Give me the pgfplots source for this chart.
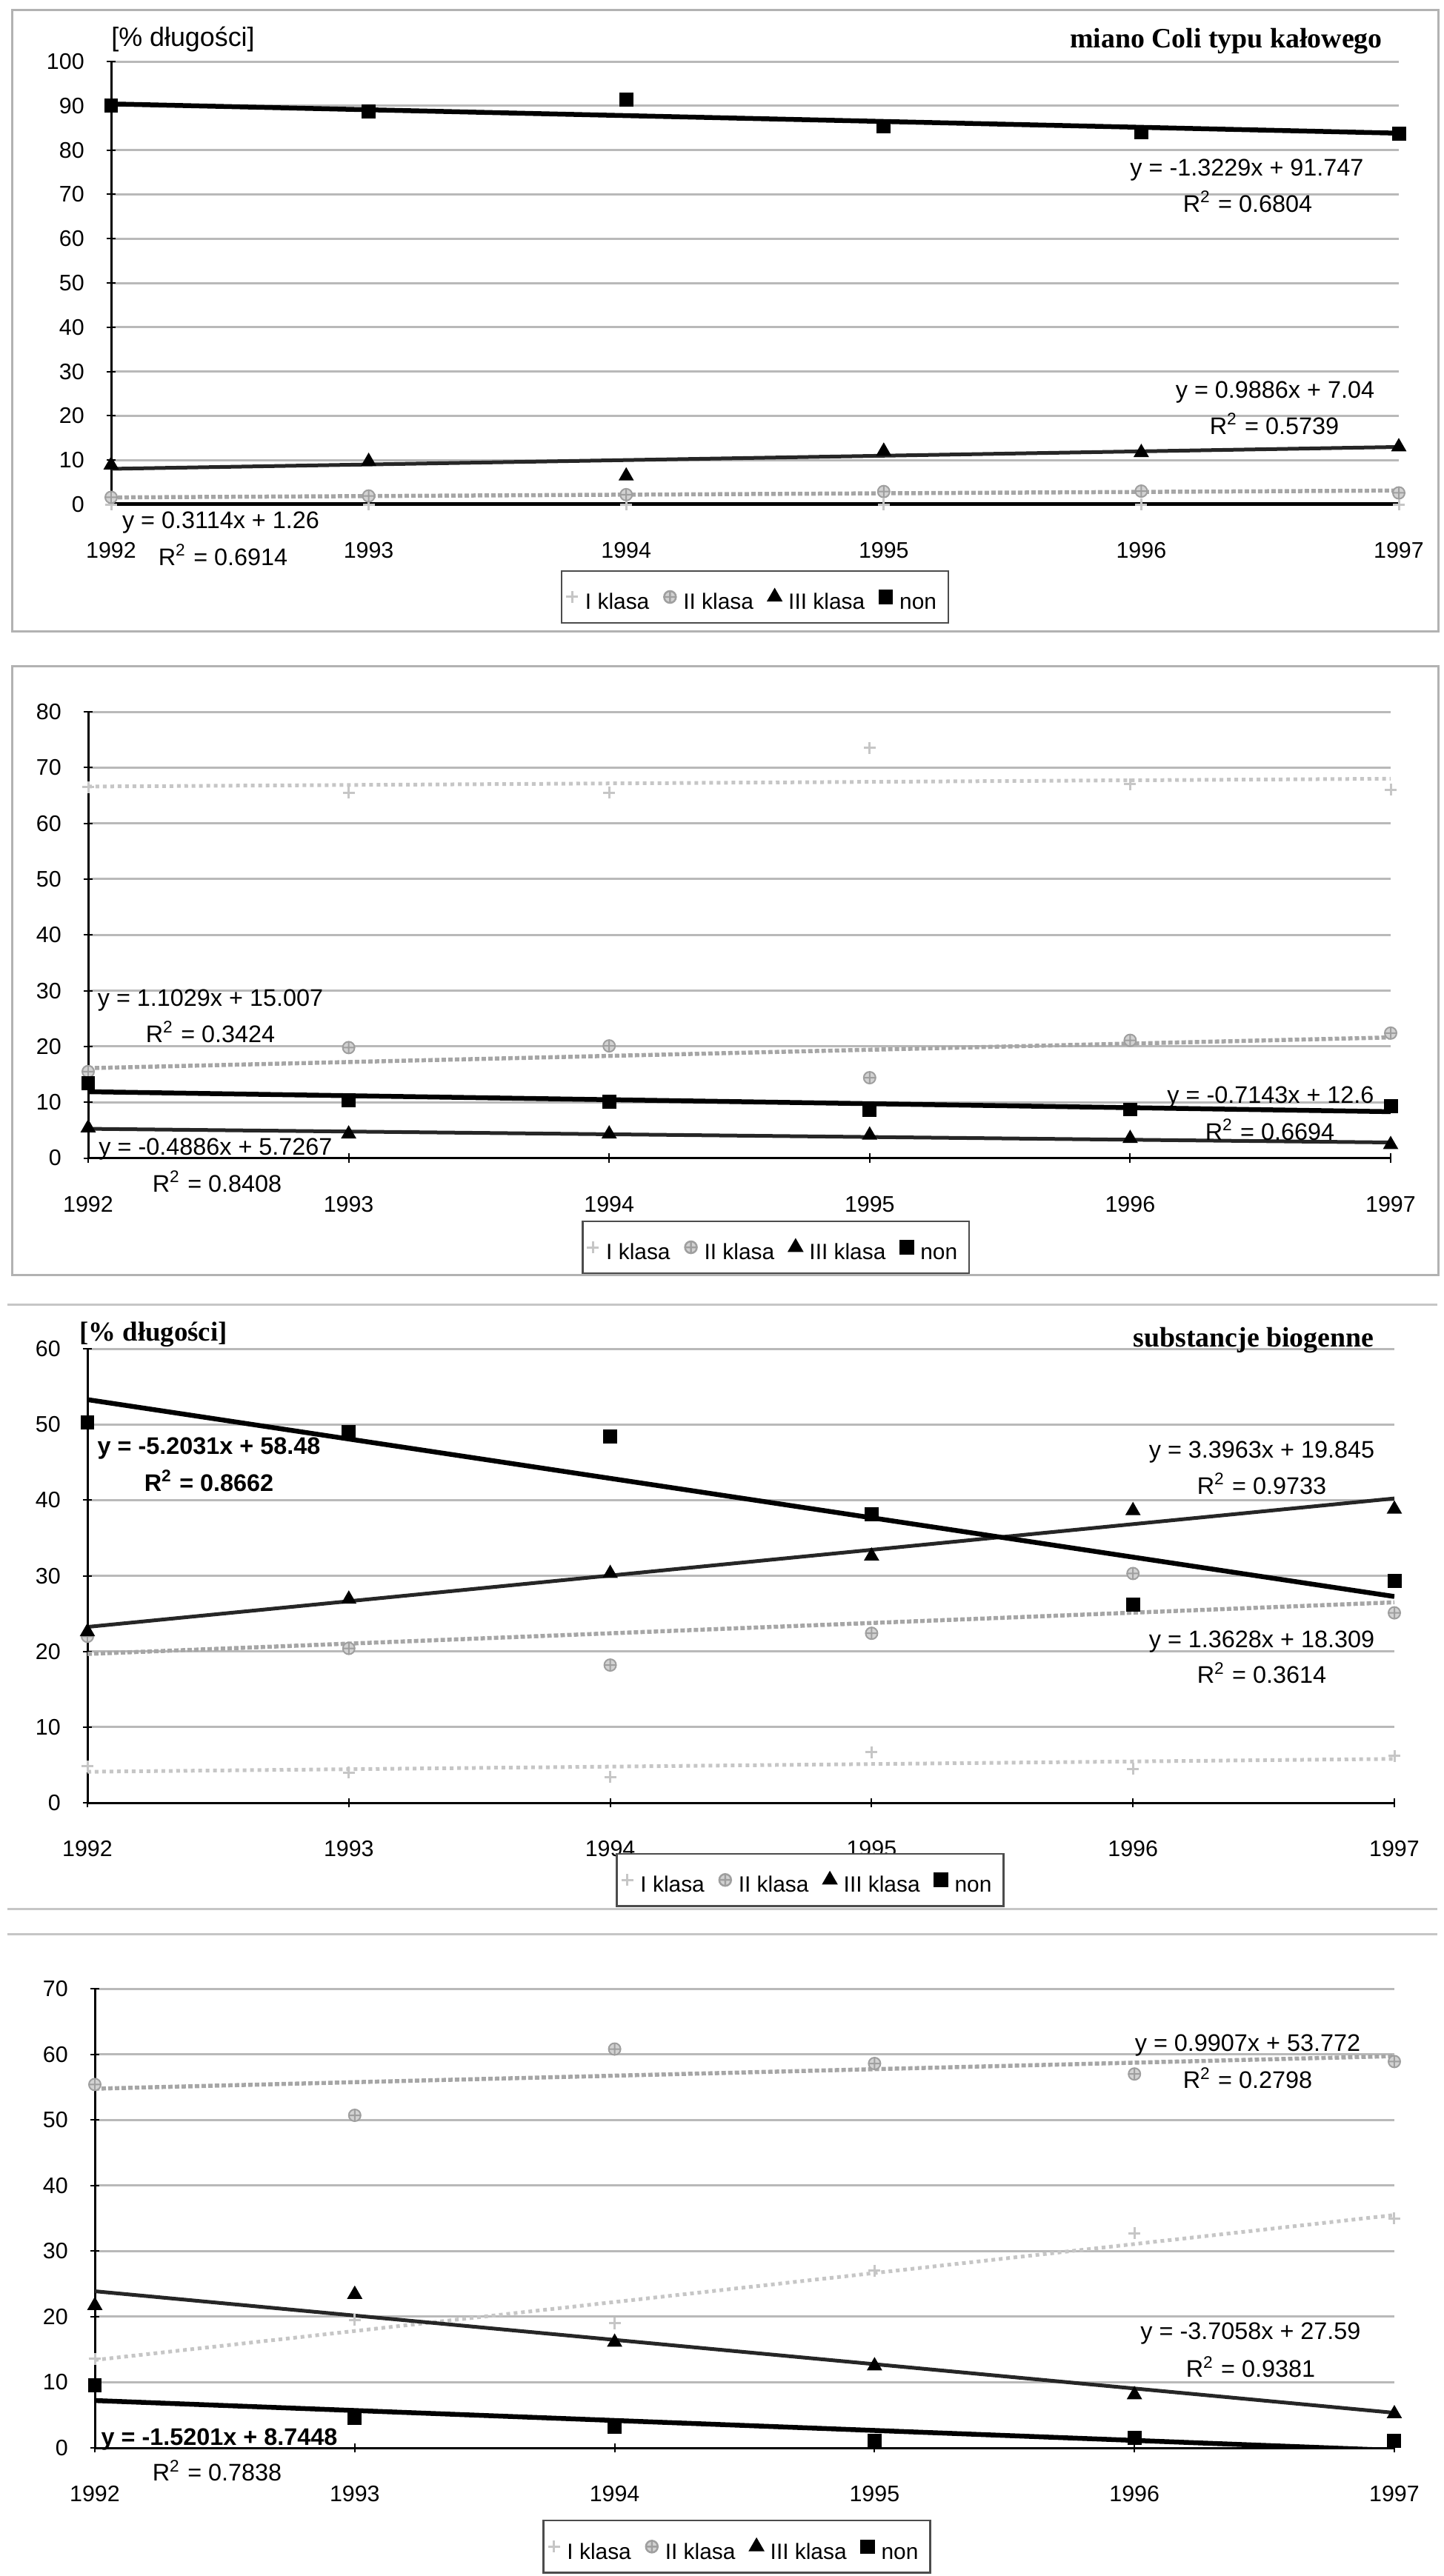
\documentclass[border=0pt]{standalone}
\usepackage{pgfplots}
\pgfplotsset{compat=1.18}
\usepackage{fontspec}
\setmainfont{Liberation Sans}
\newfontfamily\serifb{Liberation Serif}

\pgfplotsset{
 panel/.style={
   scale only axis, anchor=south west,
   xmin=1992, xmax=1997, ymin=0,
   xtick={1992,1993,1994,1995,1996,1997},
   /pgf/number format/1000 sep={},
   /pgf/number format/assume math mode=true,
   ticklabel style={font=\fontsize{6.1}{7}\selectfont},
   xticklabel style={yshift=-5.5bp},
   yticklabel style={xshift=-2.5bp},
   axis x line*=bottom, axis y line*=left,
   axis line style={-, black, line width=0.6bp},
   ymajorgrids, grid style={gray!55, line width=0.6bp},
   tick style={black, line width=0.4bp},
   major tick length=2.5bp,
   tick align=center,
   legend columns=4,
   legend style={font=\fontsize{6}{7}\selectfont, draw=black!70, line width=0.5bp,
     inner sep=1.2bp, anchor=center,
     nodes={text height=0.72em, text depth=0.05em},
     /tikz/every even column/.append style={column sep=2bp}},
   legend cell align=left,
 },
 klI/.style={only marks, mark=+, mark size=1.6bp, draw=gray!45, mark options={line width=0.6bp}},
 klII/.style={only marks, mark=oplus*, mark size=1.6bp, mark options={fill=gray!35, draw=gray!75}},
 klIII/.style={only marks, mark=triangle*, mark size=2bp, black},
 non/.style={only marks, mark=square*, mark size=1.7bp, black},
 trI/.style={gray!45, line width=1bp, densely dotted, forget plot},
 trII/.style={gray!70, line width=1.1bp, dash pattern=on 1.2bp off 0.6bp, forget plot},
 trIII/.style={black!85, line width=1bp, forget plot},
 trnon/.style={black, line width=1.3bp, forget plot},
}

\begin{document}
\begin{tikzpicture}
\path[use as bounding box] (0,0) rectangle (389.8bp,-695.6bp);

% ---------------- Panel 1 ----------------
\begin{axis}[panel, at={(30bp,-136.2bp)}, width=347.6bp, height=119.6bp,
  ymax=100, ytick={0,10,...,100},
  legend style={at={(0.5,-0.209)}}]
\addplot[black, line width=1.2bp, forget plot] coordinates {(1992,0) (1997,0)};
\addplot[trII] coordinates {(1992,1.57) (1997,3.13)};
\addplot[trIII] coordinates {(1992,8.03) (1997,12.97)};
\addplot[trnon] coordinates {(1992,90.42) (1997,83.81)};
\addplot[klI] coordinates {(1992,0) (1993,0) (1994,0) (1995,0) (1996,0) (1997,0)};
\addplot[klII] coordinates {(1992,1.6) (1993,1.9) (1994,2.2) (1995,2.9) (1996,3.0) (1997,2.6)};
\addplot[klIII] coordinates {(1992,8.9) (1993,9.7) (1994,6.4) (1995,12.0) (1996,11.7) (1997,13.0)};
\addplot[non] coordinates {(1992,90.0) (1993,88.7) (1994,91.4) (1995,85.3) (1996,84.0) (1997,83.7)};
\legend{I klasa, II klasa, III klasa, non}
\end{axis}

% ---------------- Panel 2 ----------------
\begin{axis}[panel, at={(23.8bp,-312.7bp)}, width=351.6bp, height=120.5bp,
  ymax=80, ytick={0,10,...,80},
  legend style={at={(0.528,-0.20)}}]
\addplot[trI] coordinates {(1992,66.6) (1997,68.0)};
\addplot[trII] coordinates {(1992,16.11) (1997,21.62)};
\addplot[trIII] coordinates {(1992,5.24) (1997,2.79)};
\addplot[trnon] coordinates {(1992,11.89) (1997,8.31)};
\addplot[klI] coordinates {(1992,66.5) (1993,65.5) (1994,65.5) (1995,73.5) (1996,67.0) (1997,66.0)};
\addplot[klII] coordinates {(1992,15.5) (1993,19.8) (1994,20.1) (1995,14.4) (1996,21.1) (1997,22.4)};
\addplot[klIII] coordinates {(1992,5.4) (1993,4.3) (1994,4.3) (1995,4.1) (1996,3.5) (1997,2.4)};
\addplot[non] coordinates {(1992,13.4) (1993,10.4) (1994,10.1) (1995,8.6) (1996,8.7) (1997,9.3)};
\legend{I klasa, II klasa, III klasa, non}
\end{axis}

% ---------------- Panel 3 ----------------
\begin{axis}[panel, at={(23.6bp,-486.8bp)}, width=352.8bp, height=122.6bp,
  ymax=60, ytick={0,10,...,60},
  legend style={at={(0.553,-0.17)}}]
\addplot[trI] coordinates {(1992,4.1) (1997,5.8)};
\addplot[trII] coordinates {(1992,19.67) (1997,26.49)};
\addplot[trIII] coordinates {(1992,23.24) (1997,40.22)};
\addplot[trnon] coordinates {(1992,53.28) (1997,27.26)};
\addplot[klI] coordinates {(1992,4.8) (1993,4.0) (1994,3.4) (1995,6.7) (1996,4.5) (1997,6.2)};
\addplot[klII] coordinates {(1992,22.0) (1993,20.4) (1994,18.2) (1995,22.4) (1996,30.3) (1997,25.1)};
\addplot[klIII] coordinates {(1992,22.6) (1993,26.9) (1994,30.3) (1995,32.6) (1996,38.6) (1997,38.8)};
\addplot[non] coordinates {(1992,50.3) (1993,49.0) (1994,48.4) (1995,38.1) (1996,26.2) (1997,29.3)};
\legend{I klasa, II klasa, III klasa, non}
\end{axis}

% ---------------- Panel 4 ----------------
\begin{axis}[panel, at={(25.6bp,-661bp)}, width=350.8bp, height=124bp,
  ymax=70, ytick={0,10,...,70},
  legend style={at={(0.494,-0.215)}}]
\addplot[trI] coordinates {(1992,13.4) (1997,35.5)};
\addplot[trII] coordinates {(1992,54.76) (1997,59.72)};
\addplot[trIII] coordinates {(1992,23.88) (1997,5.35)};
\addplot[trnon] coordinates {(1992,7.22) (1997,-0.38)};
\addplot[klI] coordinates {(1992,13.6) (1993,19.5) (1994,19.0) (1995,27.0) (1996,32.7) (1997,35.0)};
\addplot[klII] coordinates {(1992,55.4) (1993,50.7) (1994,60.8) (1995,58.6) (1996,57.0) (1997,58.9)};
\addplot[klIII] coordinates {(1992,21.7) (1993,23.4) (1994,16.1) (1995,12.5) (1996,8.1) (1997,5.2)};
\addplot[non] coordinates {(1992,9.5) (1993,4.6) (1994,3.2) (1995,1.1) (1996,1.5) (1997,1.1)};
\legend{I klasa, II klasa, III klasa, non}
\end{axis}

% ---------------- frames and texts (pixel units of the reference) ----------------
\begin{scope}[x=0.2bp, y=-0.2bp]
\draw[gray!60, line width=0.6bp] (17,14) rectangle (1942,853);
\draw[gray!60, line width=0.6bp] (17,900) rectangle (1942,1722);
\draw[gray!45, line width=0.6bp] (10,1762) -- (1940,1762);
\draw[gray!45, line width=0.6bp] (10,2578) -- (1940,2578);
\draw[gray!45, line width=0.6bp] (10,2612) -- (1940,2612);

\tikzset{eq/.style={font=\fontsize{6.5}{7.5}\selectfont, inner sep=0pt}}
% panel 1
\node[font=\fontsize{7.2}{8}\selectfont, inner sep=0pt] at (247,53) {[\% długości]};
\node[font=\serifb\bfseries\fontsize{7.6}{9}\selectfont, inner sep=0pt] at (1655,56) {miano Coli typu kałowego};
\node[eq] at (1683,230) {y = -1.3229x + 91.747};
\node[eq] at (1684,272) {R\textsuperscript{2} = 0.6804};
\node[eq] at (1721,530) {y = 0.9886x + 7.04};
\node[eq] at (1720,572) {R\textsuperscript{2} = 0.5739};
\node[eq] at (298,706) {y = 0.3114x + 1.26};
\node[eq] at (301,749) {R\textsuperscript{2} = 0.6914};
% panel 2
\node[eq] at (284,1351) {y = 1.1029x + 15.007};
\node[eq] at (284,1393) {R\textsuperscript{2} = 0.3424};
\node[eq] at (291,1552) {y = -0.4886x + 5.7267};
\node[eq] at (293,1595) {R\textsuperscript{2} = 0.8408};
\node[eq] at (1715,1482) {y = -0.7143x + 12.6};
\node[eq] at (1714,1525) {R\textsuperscript{2} = 0.6694};
% panel 3
\node[font=\serifb\bfseries\fontsize{7.4}{9}\selectfont, inner sep=0pt] at (207,1802) {[\% długości]};
\node[font=\serifb\bfseries\fontsize{7.6}{9}\selectfont, inner sep=0pt] at (1692,1810) {substancje biogenne};
\node[eq, font=\bfseries\fontsize{6.5}{7.5}\selectfont] at (282,1956) {y = -5.2031x + 58.48};
\node[eq, font=\bfseries\fontsize{6.5}{7.5}\selectfont] at (282,1999) {R\textsuperscript{2} = 0.8662};
\node[eq] at (1703,1961) {y = 3.3963x + 19.845};
\node[eq] at (1703,2003) {R\textsuperscript{2} = 0.9733};
\node[eq] at (1703,2217) {y = 1.3628x + 18.309};
\node[eq] at (1703,2259) {R\textsuperscript{2} = 0.3614};
% panel 4
\node[eq] at (1684,2762) {y = 0.9907x + 53.772};
\node[eq] at (1684,2806) {R\textsuperscript{2} = 0.2798};
\node[eq] at (1688,3151) {y = -3.7058x + 27.59};
\node[eq] at (1688,3196) {R\textsuperscript{2} = 0.9381};
\node[eq, font=\bfseries\fontsize{6.5}{7.5}\selectfont] at (296,3294) {y = -1.5201x + 8.7448};
\node[eq] at (293,3336) {R\textsuperscript{2} = 0.7838};
\end{scope}
\end{tikzpicture}
\end{document}
